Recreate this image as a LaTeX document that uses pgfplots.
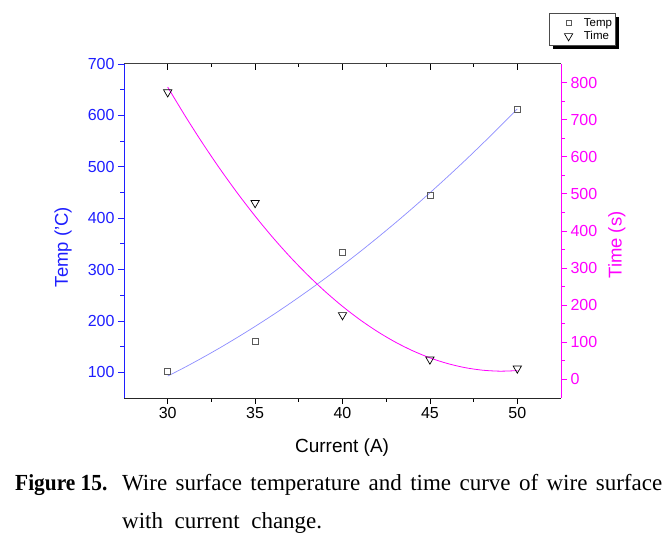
\documentclass[border=0pt]{standalone}
\usepackage{pgfplots}
\pgfplotsset{compat=1.18}
\usepackage{fontspec}
\setmainfont{Liberation Sans}
\newfontfamily\capfont{Liberation Serif}
\usetikzlibrary{shadows}
\definecolor{tblue}{RGB}{30,30,255}
\definecolor{tmag}{RGB}{255,0,255}
\definecolor{fitblue}{RGB}{140,140,255}
\definecolor{mgray}{RGB}{90,90,90}
\pgfplotsset{
  base/.style={
    at={(124pt,143pt)}, anchor=south west, scale only axis,
    width=437pt, height=334pt, xmin=27.5, xmax=52.5,
    /pgf/number format/assume math mode=true,
    tick label style={font=\fontsize{16}{17}\selectfont},
    major tick length=6pt, minor tick length=3.5pt,
    tick style={line width=0.8pt},
    axis line style={line width=1pt},
    clip=false,
  },
}
\begin{document}
\begin{tikzpicture}[x=1pt,y=1pt]
\useasboundingbox (0,0) rectangle (672,541);
% bottom x axis
\begin{axis}[base, hide y axis, axis x line*=bottom, ymin=0, ymax=1,
  xtick={30,35,40,45,50}, minor x tick num=1, tick align=outside,
  tick style={black}, axis line style={black!85},
  xlabel={Current (A)},
  every axis x label/.style={at={(axis description cs:0.499,-0.1497)}, anchor=center, font=\fontsize{19}{20}\selectfont}]
\end{axis}
% top x axis
\begin{axis}[base, hide y axis, axis x line*=top, ymin=0, ymax=1,
  xtick={30,35,40,45,50}, minor x tick num=1, tick align=inside,
  xticklabels={}, tick style={black}, axis line style={black!75}]
\end{axis}
% left y axis (Temp)
\begin{axis}[base, hide x axis, axis y line*=left, ymin=50, ymax=700,
  ytick={100,200,...,700}, minor y tick num=1, tick align=outside,
  tick style={tblue}, axis line style={tblue},
  yticklabel style={text=tblue},
  ylabel={Temp ('C)},
  every axis y label/.style={at={(axis description cs:-0.1396,0.452)}, rotate=90, anchor=center, text=tblue, font=\fontsize{18.5}{20}\selectfont}]
\addplot[fitblue, line width=0.7pt, smooth] coordinates {
(30,92.6)(31,110.1)(32,128.6)(33,147.9)(34,168.2)(35,189.3)(36,211.3)(37,234.2)(38,258.0)(39,282.6)(40,308.2)
(41,334.6)(42,362.0)(43,390.2)(44,419.3)(45,449.3)(46,480.2)(47,511.9)(48,544.6)(49,578.1)(50,612.6)};
\addplot[only marks, mark=square, mark size=3pt, mgray, mark options={line width=0.6pt}] coordinates {
(30,102.5)(35,160.9)(40,333.5)(45,443.8)(50,611.0)};
\end{axis}
% right y axis (Time)
\begin{axis}[base, hide x axis, axis y line*=right, ymin=-50, ymax=850,
  ytick={0,100,...,800}, minor y tick num=1, tick align=outside,
  tick style={tmag}, axis line style={tmag},
  yticklabel style={text=tmag},
  ylabel={Time (s)},
  every axis y label/.style={at={(axis description cs:1.128,0.458)}, rotate=90, anchor=center, text=tmag, font=\fontsize{18.5}{20}\selectfont},
  legend style={at={(axis description cs:0.9725,1.1527)}, anchor=north west,
    draw=black!70, line width=0.6pt, fill=white, font=\fontsize{11.5}{12}\selectfont,
    drop shadow={shadow xshift=3.5pt, shadow yshift=-3.5pt, fill=black, opacity=1},
    inner xsep=2pt, inner ysep=2.5pt, row sep=0pt, column sep=0pt, legend cell align=left,
    nodes={inner xsep=1pt, inner ysep=0pt, text height=10.5pt, text depth=3pt}},
  legend image code/.code={\path (0pt,0pt) (31pt,0pt); \draw[#1] plot coordinates {(17pt,0pt)};}]
\addlegendimage{only marks, mark=square, mark size=2.5pt, mgray, mark options={line width=0.6pt}}
\addlegendentry{Temp}
\addplot[tmag, line width=0.8pt, smooth, forget plot] coordinates {
(30,787.8)(31,709.9)(32,636.2)(33,566.7)(34,501.4)(35,440.2)(36,383.2)(37,330.4)(38,281.8)(39,237.3)(40,197.0)
(41,160.9)(42,129.0)(43,101.2)(44,77.6)(45,58.2)(46,43.0)(47,31.9)(48,25.0)(49,22.3)(50,23.8)};
\addplot[only marks, mark=triangle, mark size=4.8pt, black, mark options={rotate=180, line width=0.7pt}] coordinates {
(30,774)(35,475.6)(40,173.6)(45,54)(50,29.7)};
\addlegendentry{Time}
\end{axis}
% caption
\node[anchor=base west, inner sep=0pt] at (15,51) {\capfont\fontsize{23}{28}\selectfont\scalebox{0.93}[1]{\textbf{Figure 15.}}};
\node[anchor=base west, inner sep=0pt] at (122,51) {\capfont\fontsize{23}{28}\selectfont\makebox[540pt][s]{Wire surface temperature and time curve of wire surface}};
\node[anchor=base west, inner sep=0pt] at (122,13) {\capfont\fontsize{23}{28}\selectfont\makebox[200pt][s]{with current change.}};
\end{tikzpicture}
\end{document}
